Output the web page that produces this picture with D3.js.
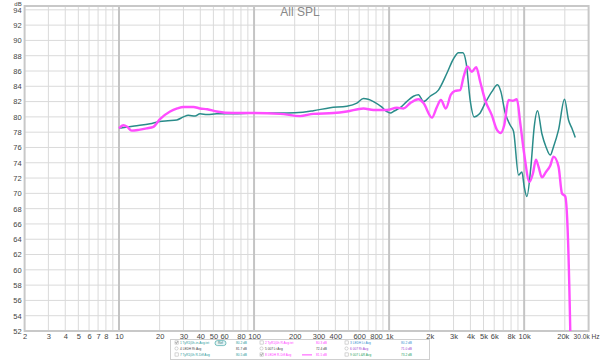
<!DOCTYPE html>
<html><head><meta charset="utf-8">
<script src="https://cdn.jsdelivr.net/npm/d3@7"></script>
<style>body{margin:0;background:#fff}svg{display:block}</style>
</head><body><svg id="c" width="600" height="361"></svg>
<script>
const tealFreq=[10,13,17,20,23,26.8,30,32.6,36.6,39.8,45,52.9,70,100,175,230,275,366,486,577,646,700,766,880,960,1019,1100,1208,1350,1514,1649,1798,2013,2318,2678,3000,3266,3518,3724,3982,4266,4670,5141,5768,6345,6722,7240,7888,8344,9087,9623,10000,10475,11218,11870,12560,13530,14490,15590,16500,17970,19900,21300,22570,23900];
const tealDb=[78.5,78.8,79.1,79.4,79.5,79.6,80.0,80.2,80.1,80.4,80.3,80.4,80.4,80.5,80.5,80.6,80.8,81.2,81.4,81.8,82.4,82.3,82.0,81.3,80.7,80.5,80.8,81.2,82.0,82.7,82.9,82.0,82.7,83.5,85.7,87.6,88.4,88.4,87.0,82.2,80.0,80.4,81.8,83.3,84.2,83.3,80.5,78.9,78.1,72.4,72.8,70.9,69.6,73.5,78.7,80.8,77.8,76.1,75.0,76.1,78.3,82.3,79.6,78.5,77.3];
const pinkFreq=[10,10.8,11.5,12.4,14,16,17.96,20.1,23.9,27,30,35.6,39.8,45,52.9,70.3,100,156,219,275,387,486,646,766,962,1141,1277,1432,1649,1798,2074,2259,2418,2630,2866,3083,3358,3556,3803,4100,4415,4725,5141,5768,6285,6722,7115,7658,8205,8838,9354,10000,10960,11610,12220,12770,13530,14490,15590,16500,17970,19050,20140,20950,21940,22300];
const pinkDb=[78.5,78.9,78.7,78.2,78.3,78.5,78.7,79.7,80.7,81.1,81.3,81.3,81.1,81.0,80.7,80.5,80.5,80.4,80.1,80.4,80.5,80.7,81.1,80.9,80.9,81.2,81.1,81.8,82.3,81.8,79.9,81.3,82.2,81.1,82.9,83.4,83.5,85.2,86.6,85.9,86.5,84.6,82.2,80.2,78.3,77.9,78.9,82.2,82.1,82.3,79.2,75.2,71.5,72.6,74.4,73.5,72.1,72.8,73.6,74.8,73.5,70.0,69.6,65.6,52.1,45];
const xTickValues=[2,3,4,5,6,7,8,10,20,30,40,50,60,80,100,200,300,400,600,800,1000,2000,3000,4000,5000,6000,8000,10000,20000,30000];
const xTickLabels=["2","3","4","5","6","7","8","10","20","30","40","50","60","80","100","200","300","400","600","800","1k","2k","3k","4k","5k","6k","8k","10k","20k","30.0k Hz"];
const yTicks=[52,54,56,58,60,62,64,66,68,70,72,74,76,78,80,82,84,86,88,90,92,94];
const legendNames=[["1 TyR1(0h-in-Avg.tet","2 TyR1(0h R Avg.tet","3 LEDH Lt Avg"],["4 LEDH Rt Avg","5 007 Lt Avg","6 007 Rt Avg"],["7 TyR1(0h R-Diff Avg","8 LEDH R-Diff Avg","9 007 L&R Avg"]];
const legendValues=[["80.2 dB","80.3 dB","80.2 dB"],["81.7 dB","72.4 dB","71.0 dB"],["80.5 dB","81.5 dB","73.2 dB"]];

const svg=d3.select("#c");
const L=24.6,R=588.6,T=6,B=331;
const x=d3.scaleLog().domain([2,30000]).range([L,R]);
const y=d3.scaleLinear().domain([52,94.5]).range([B,T]);
const font="'Liberation Sans', Arial, sans-serif";

const minor=[];
for(let e=0;e<=4;e++){for(let m=1;m<=9;m++){const v=m*Math.pow(10,e);if(v>2&&v<30000&&![10,100,1000,10000].includes(v))minor.push(v);}}
svg.append("g").selectAll("line").data(minor).join("line")
 .attr("x1",d=>x(d)).attr("x2",d=>x(d)).attr("y1",T).attr("y2",B)
 .attr("stroke","#dadada").attr("stroke-width",1);
svg.append("g").selectAll("line").data(yTicks).join("line")
 .attr("x1",L).attr("x2",R).attr("y1",d=>y(d)).attr("y2",d=>y(d))
 .attr("stroke","#dadada").attr("stroke-width",1);
svg.append("g").selectAll("line").data([10,100,1000,10000]).join("line")
 .attr("x1",d=>x(d)).attr("x2",d=>x(d)).attr("y1",T).attr("y2",B)
 .attr("stroke","#c4c4c4").attr("stroke-width",2);
svg.append("rect").attr("x",L).attr("y",T).attr("width",R-L).attr("height",B-T)
 .attr("fill","none").attr("stroke","#c8c8c8").attr("stroke-width",2);

const xAxis=d3.axisBottom(x).tickValues(xTickValues).tickFormat((d,i)=>xTickLabels[i]).tickSize(0).tickPadding(3);
const gx=svg.append("g").attr("transform",`translate(0,${B})`).call(xAxis);
gx.select(".domain").remove();
gx.selectAll("text").attr("font-family",font).attr("font-size",7.5).attr("fill","#444");
gx.selectAll("text").filter((d,i)=>i===xTickLabels.length-2).attr("dx",-2);
gx.selectAll("text").filter((d,i)=>i===xTickLabels.length-1).attr("text-anchor","end").attr("dx",10.5).attr("font-size",6.6);
const yAxis=d3.axisLeft(y).tickValues(yTicks).tickFormat(d3.format("d")).tickSize(0).tickPadding(3);
const gy=svg.append("g").attr("transform",`translate(${L},0)`).call(yAxis);
gy.select(".domain").remove();
gy.selectAll("text").attr("font-family",font).attr("font-size",7.5).attr("fill","#444");
svg.append("text").attr("x",18).attr("y",5.5).attr("text-anchor","middle").attr("font-family",font).attr("font-size",6).attr("fill","#444").text("dB");

svg.append("text").attr("x",300).attr("y",16).attr("text-anchor","middle").attr("font-family",font).attr("font-size",12).attr("fill","#888").text("All SPL");

svg.append("clipPath").attr("id","clip").append("rect").attr("x",L).attr("y",T).attr("width",R-L).attr("height",B-T);
const line=d3.line().x(d=>x(d[0])).y(d=>y(d[1])).curve(d3.curveMonotoneX);
const teal=tealFreq.map((f,i)=>[f,tealDb[i]]);
const pink=pinkFreq.map((f,i)=>[f,pinkDb[i]]);
const cg=svg.append("g").attr("clip-path","url(#clip)");
cg.append("path").datum(teal).attr("d",line).attr("fill","none").attr("stroke","#2a8c8a").attr("stroke-width",1.5);
cg.append("path").datum(pink).attr("d",line).attr("fill","none").attr("stroke","#ff4dff").attr("stroke-width",2.4);

const lg=svg.append("g");
lg.append("rect").attr("x",170.5).attr("y",339.5).attr("width",259).attr("height",20).attr("fill","#fff").attr("stroke","#cfcfcf");
const colX=[175,260,345], valX=[236,316,401], rowY=[343.5,349.5,355.5];
const nameColors=[["#2a9a9a","#ff40ff","#3a8fd0"],["#444","#444","#a040d0"],["#2a9a9a","#ff40ff","#2aa060"]];
const checked=[[true,false,false],[false,false,false],[false,true,false]];
function tinyText(px,py,str,color,anchor){
  lg.append("text").attr("transform",`translate(${px},${py}) scale(0.5)`)
    .attr("font-family",font).attr("font-size",6.4).attr("fill",color)
    .attr("text-anchor",anchor||"start").text(str);
}
for(let r=0;r<3;r++)for(let c=0;c<3;c++){
  const cx=colX[c],cy=rowY[r];
  if(r===1) lg.append("circle").attr("cx",cx+1.5).attr("cy",cy-1).attr("r",1.6).attr("fill","#fff").attr("stroke","#aaa").attr("stroke-width",0.5);
  else lg.append("rect").attr("x",cx).attr("y",cy-2.6).attr("width",3.2).attr("height",3.2).attr("fill","#fff").attr("stroke","#aaa").attr("stroke-width",0.5);
  if(checked[r][c]) lg.append("path").attr("d",`M${cx+0.6},${cy-1.1} L${cx+1.4},${cy-0.1} L${cx+2.8},${cy-2.2}`).attr("fill","none").attr("stroke","#333").attr("stroke-width",0.5);
  tinyText(cx+5,cy+0.8,legendNames[r][c],nameColors[r][c]);
  tinyText(valX[c],cy+0.8,legendValues[r][c],nameColors[r][c]);
}
lg.append("rect").attr("x",215).attr("y",340.6).attr("width",11).attr("height",5).attr("rx",2.5).attr("fill","#e6f4f4").attr("stroke","#2a9a9a").attr("stroke-width",0.6);
tinyText(220.5,344.4,"Ref","#2a7a7a","middle");
lg.append("line").attr("x1",302).attr("x2",312).attr("y1",rowY[2]-0.6).attr("y2",rowY[2]-0.6).attr("stroke","#ff4dff").attr("stroke-width",1);
</script></body></html>
